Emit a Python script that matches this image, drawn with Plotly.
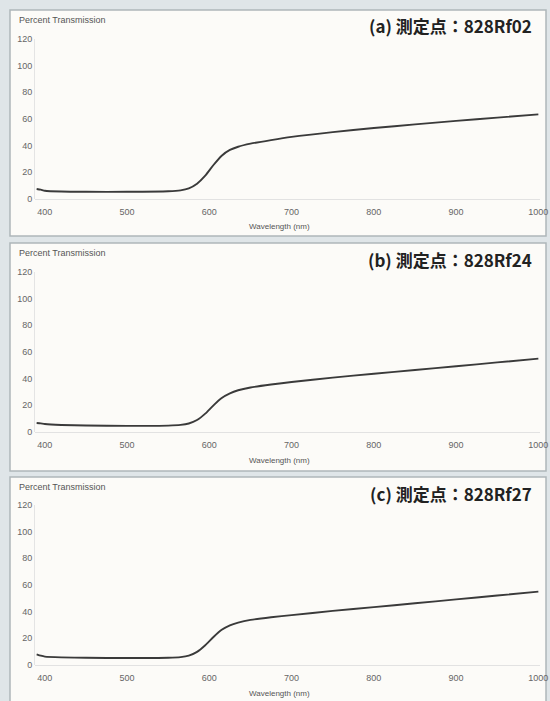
import plotly.graph_objects as go

wavelength = [390, 395, 400, 420, 450, 500, 550, 565, 575, 585, 595, 605, 615, 625, 635, 650, 675, 700, 750, 800, 850, 900, 950, 1000]
trans_a = [7.5, 7.0, 6.2, 5.6, 5.4, 5.4, 5.8, 6.5, 8.0, 11.5, 17.5, 25.5, 32.5, 36.8, 39.2, 41.5, 44.2, 46.6, 50.2, 53.2, 56.0, 58.6, 61.0, 63.5]
trans_b = [6.8, 6.5, 6.0, 5.3, 4.9, 4.6, 4.8, 5.3, 6.4, 9.0, 13.8, 20.0, 25.5, 29.0, 31.3, 33.4, 35.6, 37.5, 40.8, 43.7, 46.5, 49.3, 52.2, 55.0]
trans_c = [8.0, 7.0, 6.3, 5.7, 5.4, 5.2, 5.4, 5.9, 7.0, 9.8, 14.8, 21.0, 26.4, 29.8, 31.8, 33.8, 35.8, 37.4, 40.6, 43.4, 46.3, 49.2, 52.1, 55.0]
panel_labels = ["(a) 測定点：828Rf02", "(b) 測定点：828Rf24", "(c) 測定点：828Rf27"]
x_ticks = [400, 500, 600, 700, 800, 900, 1000]
y_ticks = [0, 20, 40, 60, 80, 100, 120]

H = 701.0
W = 550.0

def py(p):
    return 1 - p / H

series = [trans_a, trans_b, trans_c]
# pixel geometry per panel: (panel top, panel bottom, y of 120, y of 0)
panels = [(10, 236, 39, 199), (243, 471, 272, 432), (477, 705, 505, 665)]

fig = go.Figure()
shapes = []
annotations = []
for i, (vals, (ptop, pbot, ytop, ybot)) in enumerate(zip(series, panels)):
    n = "" if i == 0 else str(i + 1)
    fig.add_trace(go.Scatter(x=wavelength, y=vals, mode="lines", line=dict(color="#3a3a3a", width=1.9, shape="spline", smoothing=0.6),
                             xaxis="x" + n, yaxis="y" + n, showlegend=False, hoverinfo="skip"))
    fig.layout["xaxis" + n] = dict(domain=[35 / W, 540 / W], range=[388, 1002], anchor="y" + n, automargin=False,
                                   tickvals=x_ticks, showgrid=False, zeroline=False, showline=False,
                                   ticks="", tickfont=dict(family="Liberation Sans, Arial", size=9, color="#666"),
                                   ticklabelstandoff=6)
    fig.layout["yaxis" + n] = dict(domain=[py(ybot), py(ytop)], range=[0, 120], anchor="x" + n, automargin=False,
                                   tickvals=y_ticks, showgrid=False, zeroline=True, zerolinecolor="#e2e2e2", zerolinewidth=1,
                                   showline=True, linecolor="#e4e4e4", linewidth=1, ticks="",
                                   tickfont=dict(family="Liberation Sans, Arial", size=9, color="#666"))
    shapes.append(dict(type="rect", xref="paper", yref="paper", x0=10 / W, x1=546 / W, y0=py(pbot), y1=py(ptop),
                       fillcolor="#fcfbf8", line=dict(color="#aeb6b9", width=1.5), layer="below"))
    annotations.append(dict(text="Percent Transmission", xref="paper", yref="paper", x=17 / W, y=py(ptop + 10),
                            xanchor="left", yanchor="middle", showarrow=False,
                            font=dict(family="Liberation Sans, Arial", size=9, color="#555")))
    annotations.append(dict(text="<b>" + panel_labels[i] + "</b>", xref="paper", yref="paper", x=534 / W, y=py(ptop + 16),
                            xanchor="right", yanchor="middle", showarrow=False,
                            font=dict(family="Noto Sans CJK JP", size=17, color="#222")))
    annotations.append(dict(text="Wavelength (nm)", xref="paper", yref="paper", x=280 / W, y=py(ybot + 28),
                            xanchor="center", yanchor="middle", showarrow=False,
                            font=dict(family="Liberation Sans, Arial", size=8, color="#555")))

fig.update_layout(width=550, height=701, margin=dict(l=0, r=0, t=0, b=0),
                  paper_bgcolor="#dfe5e8", plot_bgcolor="rgba(0,0,0,0)",
                  shapes=shapes, annotations=annotations)
fig.write_html("out.html", config={"displayModeBar": False},
               post_script="document.body.style.margin='0';document.body.style.overflow='hidden';")
